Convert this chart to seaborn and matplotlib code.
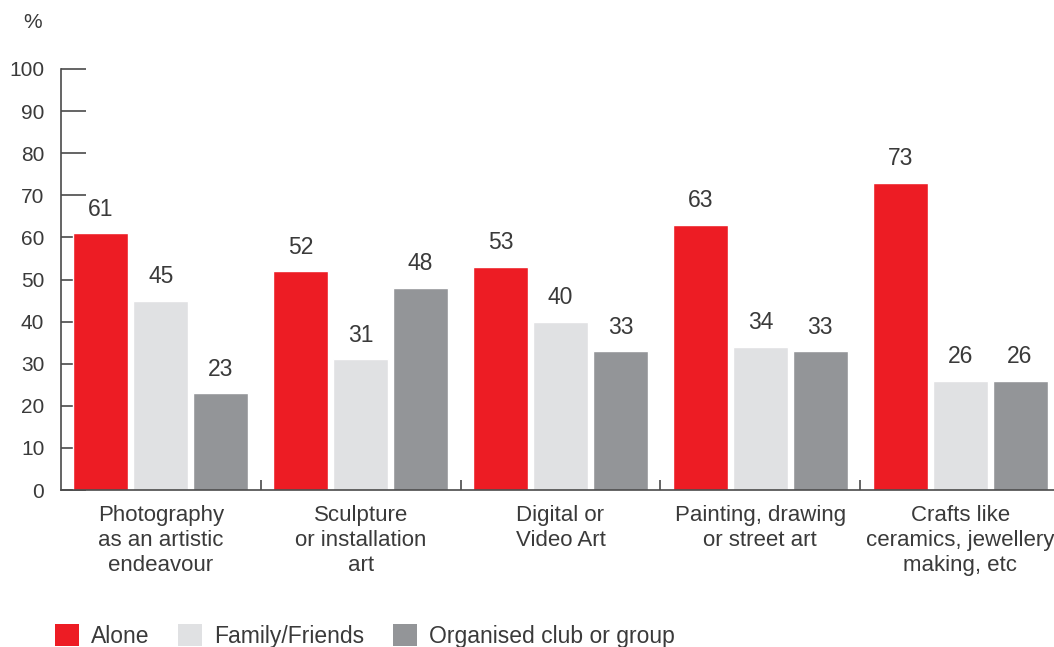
import matplotlib
matplotlib.use("Agg")
import matplotlib.pyplot as plt
from matplotlib.patches import Patch
import seaborn as sns
import pandas as pd

categories = [
    "Photography\nas an artistic\nendeavour",
    "Sculpture\nor installation\nart",
    "Digital or\nVideo Art",
    "Painting, drawing\nor street art",
    "Crafts like\nceramics, jewellery\nmaking, etc",
]
series = ["Alone", "Family/Friends", "Organised club or group"]
alone = [61, 52, 53, 63, 73]
family_friends = [45, 31, 40, 34, 26]
organised = [23, 48, 33, 33, 26]
y_ticks = [0, 10, 20, 30, 40, 50, 60, 70, 80, 90, 100]

colors = ["#ED1C24", "#E0E1E3", "#939598"]
text_color = "#3a3a3a"
axis_color = "#4a4a4a"
label_size = 16.5
cat_size = 16.0
tick_size = 15

sns.set_style("white")
plt.rcParams["font.family"] = ["Liberation Sans", "DejaVu Sans"]
plt.rcParams["text.color"] = text_color

df = pd.DataFrame({
    "category": categories * 3,
    "group": [s for s in series for _ in categories],
    "value": alone + family_friends + organised,
})

fig = plt.figure(figsize=(10.54, 6.47), dpi=100)
ax = fig.add_axes([61 / 1054, 157 / 647, (1054 - 61) / 1054, (490 - 69) / 647])

sns.barplot(data=df, x="category", y="value", hue="group", order=categories,
            hue_order=series, palette=colors, width=0.9, gap=0.083,
            saturation=1, errorbar=None, legend=False, ax=ax)

for container in ax.containers:
    ax.bar_label(container, fmt="%d", padding=9, fontsize=label_size,
                 color=text_color)

ax.set_ylim(0, 100)
ax.set_xlim(-0.5, 4.47)
ax.set_yticks(y_ticks)
ax.set_xlabel("")
ax.set_ylabel("")

for side in ["top", "right"]:
    ax.spines[side].set_visible(False)
for side in ["left", "bottom"]:
    ax.spines[side].set_color(axis_color)
    ax.spines[side].set_linewidth(1.2)

ax.tick_params(axis="y", direction="in", length=18, width=1.2, color=axis_color,
               pad=12, labelsize=tick_size, labelcolor=text_color, left=True)
ax.tick_params(axis="x", which="major", length=0, pad=11, labelsize=cat_size,
               labelcolor=text_color)
ax.set_xticks([0.5, 1.5, 2.5, 3.5], minor=True)
ax.tick_params(axis="x", which="minor", direction="in", length=7, width=1.2,
               color=axis_color, bottom=True)
for lbl in ax.get_xticklabels():
    lbl.set_linespacing(1.25)

fig.text(33 / 1054, 1 - 22 / 647, "%", fontsize=tick_size, ha="center",
         va="center", color=text_color)

handles = [Patch(facecolor=c, edgecolor="none") for c in colors]
fig.legend(handles, series, loc="lower left",
           bbox_to_anchor=(53 / 1054, -3 / 647),
           ncol=3, frameon=False, fontsize=label_size, handlelength=1.05,
           handleheight=1.1, handletextpad=0.5, columnspacing=1.27,
           borderpad=0.1, borderaxespad=0)

fig.savefig("out.png", dpi=100)
